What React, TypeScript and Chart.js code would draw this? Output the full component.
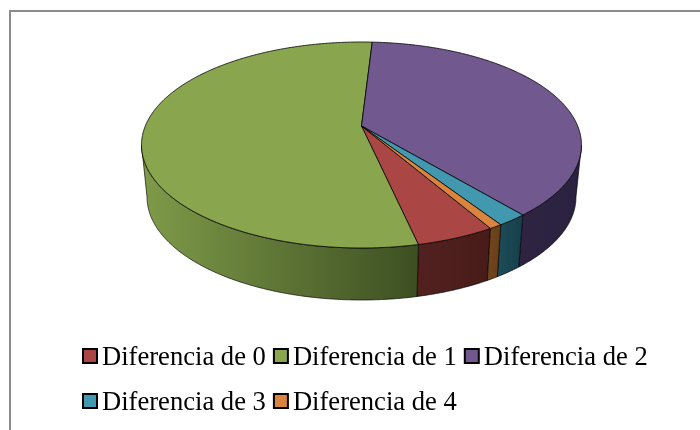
import React, { useEffect, useRef } from "react";
import { Chart, registerables } from "chart.js";

Chart.register(...registerables);

const categories = ["Diferencia de 0", "Diferencia de 1", "Diferencia de 2", "Diferencia de 3", "Diferencia de 4"];
const shares = [4.9, 54.4, 38.0, 1.9, 0.8];
const topColors = ["#AA4643", "#89A54E", "#71588F", "#4198AF", "#DB843D"];
const wallLeftColors = ["#52211F", "#7F9B49", "#2E2442", "#1C4A57", "#70441C"];
const wallRightColors = ["#471B19", "#3D4F22", "#2A2140", "#173F4B", "#683F18"];

const FONT = '26.6px "Liberation Serif", "Times New Roman", serif';

const pie3d = {
  id: "pie3d",
  beforeDatasetDraw(chart: any) {
    const ctx: CanvasRenderingContext2D = chart.ctx;
    const arcs = chart.getDatasetMeta(0).data;
    const cx = 361.5, cy = 126, a = 99.5, b = 216.2, k = 0.1845, depth = 52, shrink = 0.975;
    const edgeFrom = Math.PI - Math.acos(k), edgeTo = Math.PI + Math.acos(k);
    const TAU = Math.PI * 2;
    const project = (theta: number, bottom: boolean) => {
      const x = Math.sin(theta), y = -Math.cos(theta), d = 1 - k * y;
      const px = (b * x) / d, py = (a * y) / d;
      return bottom ? [cx + px * shrink, cy + py + depth] : [cx + px, cy + py];
    };
    const sample = (s: number, e: number) => {
      const n = Math.max(2, Math.ceil((e - s) / 0.008));
      const pts: number[] = [];
      for (let i = 0; i <= n; i++) pts.push(s + ((e - s) * i) / n);
      return pts;
    };
    const trace = (pts: number[], bottom: boolean, first: boolean) => {
      pts.forEach((t, i) => {
        const [x, y] = project(t, bottom);
        if (first && i === 0) ctx.moveTo(x, y);
        else ctx.lineTo(x, y);
      });
    };
    const range = (arc: any) => {
      let s = arc.startAngle + Math.PI / 2;
      let e = arc.endAngle + Math.PI / 2;
      while (s >= TAU) {
        s -= TAU;
        e -= TAU;
      }
      return [s, e];
    };
    ctx.save();
    ctx.lineJoin = "round";
    arcs.forEach((arc: any, i: number) => {
      const [rs, re] = range(arc);
      const s = Math.max(rs, edgeFrom);
      const e = Math.min(re, edgeTo);
      if (e <= s) return;
      const pts = sample(s, e);
      const xs = pts.map((t) => project(t, false)[0]);
      const g = ctx.createLinearGradient(Math.min(...xs), 0, Math.max(...xs), 0);
      g.addColorStop(0, wallLeftColors[i]);
      g.addColorStop(1, wallRightColors[i]);
      ctx.beginPath();
      trace(pts, false, true);
      trace([...pts].reverse(), true, false);
      ctx.closePath();
      ctx.fillStyle = g;
      ctx.fill();
      ctx.strokeStyle = "rgba(0,0,0,0.65)";
      ctx.lineWidth = 1;
      ctx.stroke();
    });
    arcs.forEach((arc: any, i: number) => {
      const [rs, re] = range(arc);
      const pts = sample(rs, re);
      ctx.beginPath();
      ctx.moveTo(cx, cy);
      trace(pts, false, false);
      ctx.closePath();
      ctx.fillStyle = topColors[i];
      ctx.fill();
      ctx.strokeStyle = "rgba(0,0,0,0.8)";
      ctx.lineWidth = 1;
      ctx.stroke();
    });
    ctx.restore();
    return false;
  },
  afterDraw(chart: any) {
    const ctx: CanvasRenderingContext2D = chart.ctx;
    ctx.save();
    ctx.fillStyle = "#8C8C8C";
    ctx.fillRect(9, 10, 691, 2);
    ctx.fillRect(9, 10, 2, 420);
    ctx.font = FONT;
    ctx.textBaseline = "alphabetic";
    ctx.textAlign = "left";
    const left = 83, right = 660, rowGap = 45, firstBaseline = 365;
    let x = left, row = 0;
    (chart.data.labels as string[]).forEach((label, i) => {
      const w = ctx.measureText(label).width;
      if (x + 19 + w > right) {
        x = left;
        row++;
      }
      const base = firstBaseline + row * rowGap;
      ctx.fillStyle = topColors[i];
      ctx.fillRect(x, base - 16, 14, 14);
      ctx.strokeStyle = "#000";
      ctx.lineWidth = 2;
      ctx.strokeRect(x, base - 16, 14, 14);
      ctx.fillStyle = "#000";
      ctx.fillText(label, x + 19, base);
      x += 19 + w + 8;
    });
    ctx.restore();
  },
};

export default function App() {
  const ref = useRef<HTMLCanvasElement>(null);
  useEffect(() => {
    const chart = new Chart(ref.current!, {
      type: "pie",
      data: {
        labels: categories,
        datasets: [{ data: shares, backgroundColor: topColors, borderWidth: 0 }],
      },
      options: {
        animation: false,
        responsive: false,
        rotation: 149.9,
        plugins: { legend: { display: false }, tooltip: { enabled: false } },
      },
      plugins: [pie3d],
    } as any);
    return () => chart.destroy();
  }, []);
  return (
    <canvas
      ref={ref}
      width={700}
      height={430}
      style={{ position: "fixed", left: 0, top: 0, display: "block", background: "#fff" }}
    />
  );
}
